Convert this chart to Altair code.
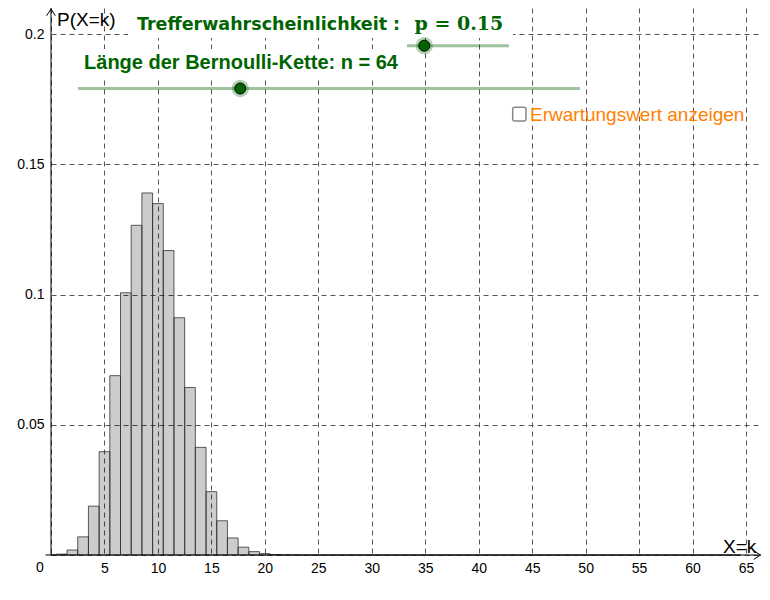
import altair as alt
import pandas as pd

# ---- data (binomial distribution n = 64, p = 0.15) ----
k_values = list(range(0, 65))
probabilities = [0.00003, 0.00034, 0.00191, 0.00696, 0.01874, 0.03968, 0.06885,
                 0.10067, 0.12658, 0.13899, 0.13490, 0.11687, 0.09109, 0.06430,
                 0.04133, 0.02431, 0.01314, 0.00655, 0.00302, 0.00129, 0.00051,
                 0.00019, 0.00007, 0.00002] + [0.0] * 41

x_ticks = list(range(0, 70, 5))
y_ticks = [0, 0.05, 0.1, 0.15, 0.2]

x_axis_title = "X=k"
y_axis_title = "P(X=k)"
slider_p_caption = "Trefferwahrscheinlichkeit :"
slider_p_value = "p = 0.15"
slider_n_caption = "Länge der Bernoulli-Kette: n = 64"
checkbox_caption = "Erwartungswert anzeigen"

# ---- layout / scales ----
X_MAX = 66.4
Y_MAX = 0.21
xs = alt.Scale(domain=[0, X_MAX], nice=False, zero=False)
ys = alt.Scale(domain=[0, Y_MAX], nice=False, zero=False)

GREEN = "#006400"
ORANGE = "#ff8000"

x_axis = alt.Axis(
    values=x_ticks, grid=True, gridDash=[5, 4], gridColor="#555555", gridWidth=1,
    domain=False, ticks=False, labelExpr="datum.value == 0 ? '' : datum.label",
    labelFont="Liberation Sans", labelFontSize=14, labelColor="black",
    labelPadding=6, title=None, labelFlush=False)
y_axis = alt.Axis(
    values=y_ticks, grid=True, gridDash=[5, 4], gridColor="#555555", gridWidth=1,
    domain=False, ticks=False,
    labelExpr="datum.value == 0 ? '' : format(datum.value, '~g')",
    labelFont="Liberation Sans", labelFontSize=14, labelColor="black",
    labelPadding=7, title=None, labelFlush=False)


def X(f):
    return alt.X(f, type="quantitative", scale=xs, axis=x_axis)


def Y(f):
    return alt.Y(f, type="quantitative", scale=ys, axis=y_axis)


bars_df = pd.DataFrame({"k": k_values, "p": probabilities})
bars_df["k0"] = bars_df["k"] - 0.5
bars_df["k1"] = bars_df["k"] + 0.5
bars_df["zero"] = 0.0

bars = alt.Chart(bars_df).mark_rect(
    fill="black", fillOpacity=0.2, stroke="#333333", strokeWidth=1, strokeOpacity=0.8
).encode(x=X("k0"), x2="k1", y=Y("zero"), y2="p")

# white label backgrounds (hide grid behind slider captions)
boxes_df = pd.DataFrame({
    "x0": [7.2, 2.5], "x1": [43.2, 33.0],
    "y0": [0.1985, 0.1824], "y1": [Y_MAX, 0.1943],
})
boxes = alt.Chart(boxes_df).mark_rect(fill="white").encode(
    x=X("x0"), x2="x1", y=Y("y0"), y2="y1")

# axes lines
axis_df = pd.DataFrame({"x0": [0.0, 0.0], "x1": [X_MAX, 0.0], "y0": [0.0, 0.0], "y1": [0.0, Y_MAX]})
axis_x = alt.Chart(axis_df.iloc[[0]]).mark_rule(color="black", strokeWidth=1).encode(
    x=X("x0"), x2="x1", y=Y("y0"))
axis_y = alt.Chart(axis_df.iloc[[1]]).mark_rule(color="black", strokeWidth=1).encode(
    x=X("x0"), y=Y("y0"), y2="y1")

arrow_r = alt.Chart(pd.DataFrame({"x": [X_MAX - 0.05], "y": [0.0]})).mark_point(
    shape="M-1,-0.65L0,0L-1,0.65", size=180, filled=False, color="black",
    strokeWidth=1, opacity=1).encode(x=X("x"), y=Y("y"))
arrow_u = alt.Chart(pd.DataFrame({"x": [0.0], "y": [Y_MAX - 0.0004]})).mark_point(
    shape="M-0.65,1L0,0L0.65,1", size=180, filled=False, color="black",
    strokeWidth=1, opacity=1).encode(x=X("x"), y=Y("y"))

# sliders
slider_df = pd.DataFrame({
    "x0": [33.29, 2.52], "x1": [42.83, 49.47], "y": [0.19553, 0.1791],
    "dot": [34.91, 17.70],
})
slider_lines = alt.Chart(slider_df).mark_rule(
    color=GREEN, strokeWidth=3, opacity=0.38).encode(x=X("x0"), x2="x1", y=Y("y"))
slider_halo = alt.Chart(slider_df).mark_circle(
    color=GREEN, size=300, opacity=0.3).encode(x=X("dot"), y=Y("y"))
slider_dot = alt.Chart(slider_df).mark_point(
    filled=True, fill=GREEN, stroke="black", strokeWidth=1, size=121, opacity=1,
    shape="circle").encode(x=X("dot"), y=Y("y"))

# checkbox
cb_df = pd.DataFrame({"x0": [43.18], "x1": [44.42], "y0": [0.16662], "y1": [0.17188]})
checkbox = alt.Chart(cb_df).mark_rect(
    fill="white", stroke="#888888", strokeWidth=1.5, cornerRadius=2).encode(
    x=X("x0"), x2="x1", y=Y("y0"), y2="y1")


def text_layer(txt, x, y, font, size, color="black", weight="normal", baseline="alphabetic", align="left"):
    return alt.Chart(pd.DataFrame({"x": [x], "y": [y], "t": [txt]})).mark_text(
        font=font, fontSize=size, color=color, fontWeight=weight,
        baseline=baseline, align=align).encode(x=X("x"), y=Y("y"), text="t:N")


texts = [
    text_layer(y_axis_title, 0.56, 0.2031, "Liberation Sans", 19),
    text_layer(x_axis_title, 62.85, 0.0008, "Liberation Sans", 19),
    text_layer("0", -1.03, -0.0050, "Liberation Sans", 14, baseline="middle", align="center"),
    text_layer(slider_p_caption, 8.04, 0.2016, "DejaVu Sans", 17.5, GREEN, "bold"),
    text_layer(slider_p_value, 34.0, 0.2016, "DejaVu Serif", 19, GREEN, "bold"),
    text_layer(slider_n_caption, 3.09, 0.18658, "Liberation Sans", 20, GREEN, "bold"),
    text_layer(checkbox_caption, 44.8, 0.16673, "Liberation Sans", 19, ORANGE),
]

chart = alt.layer(
    bars, boxes, axis_x, axis_y, arrow_r, arrow_u,
    slider_lines, slider_halo, slider_dot, checkbox, *texts
).properties(
    width=710, height=547,
    padding={"left": 43, "top": 0, "right": 0, "bottom": 30},
    autosize=alt.AutoSizeParams(type="none"),
    background="white",
).configure_view(strokeWidth=0)

chart.save("out.html", embed_options={"renderer": "svg", "actions": False})
